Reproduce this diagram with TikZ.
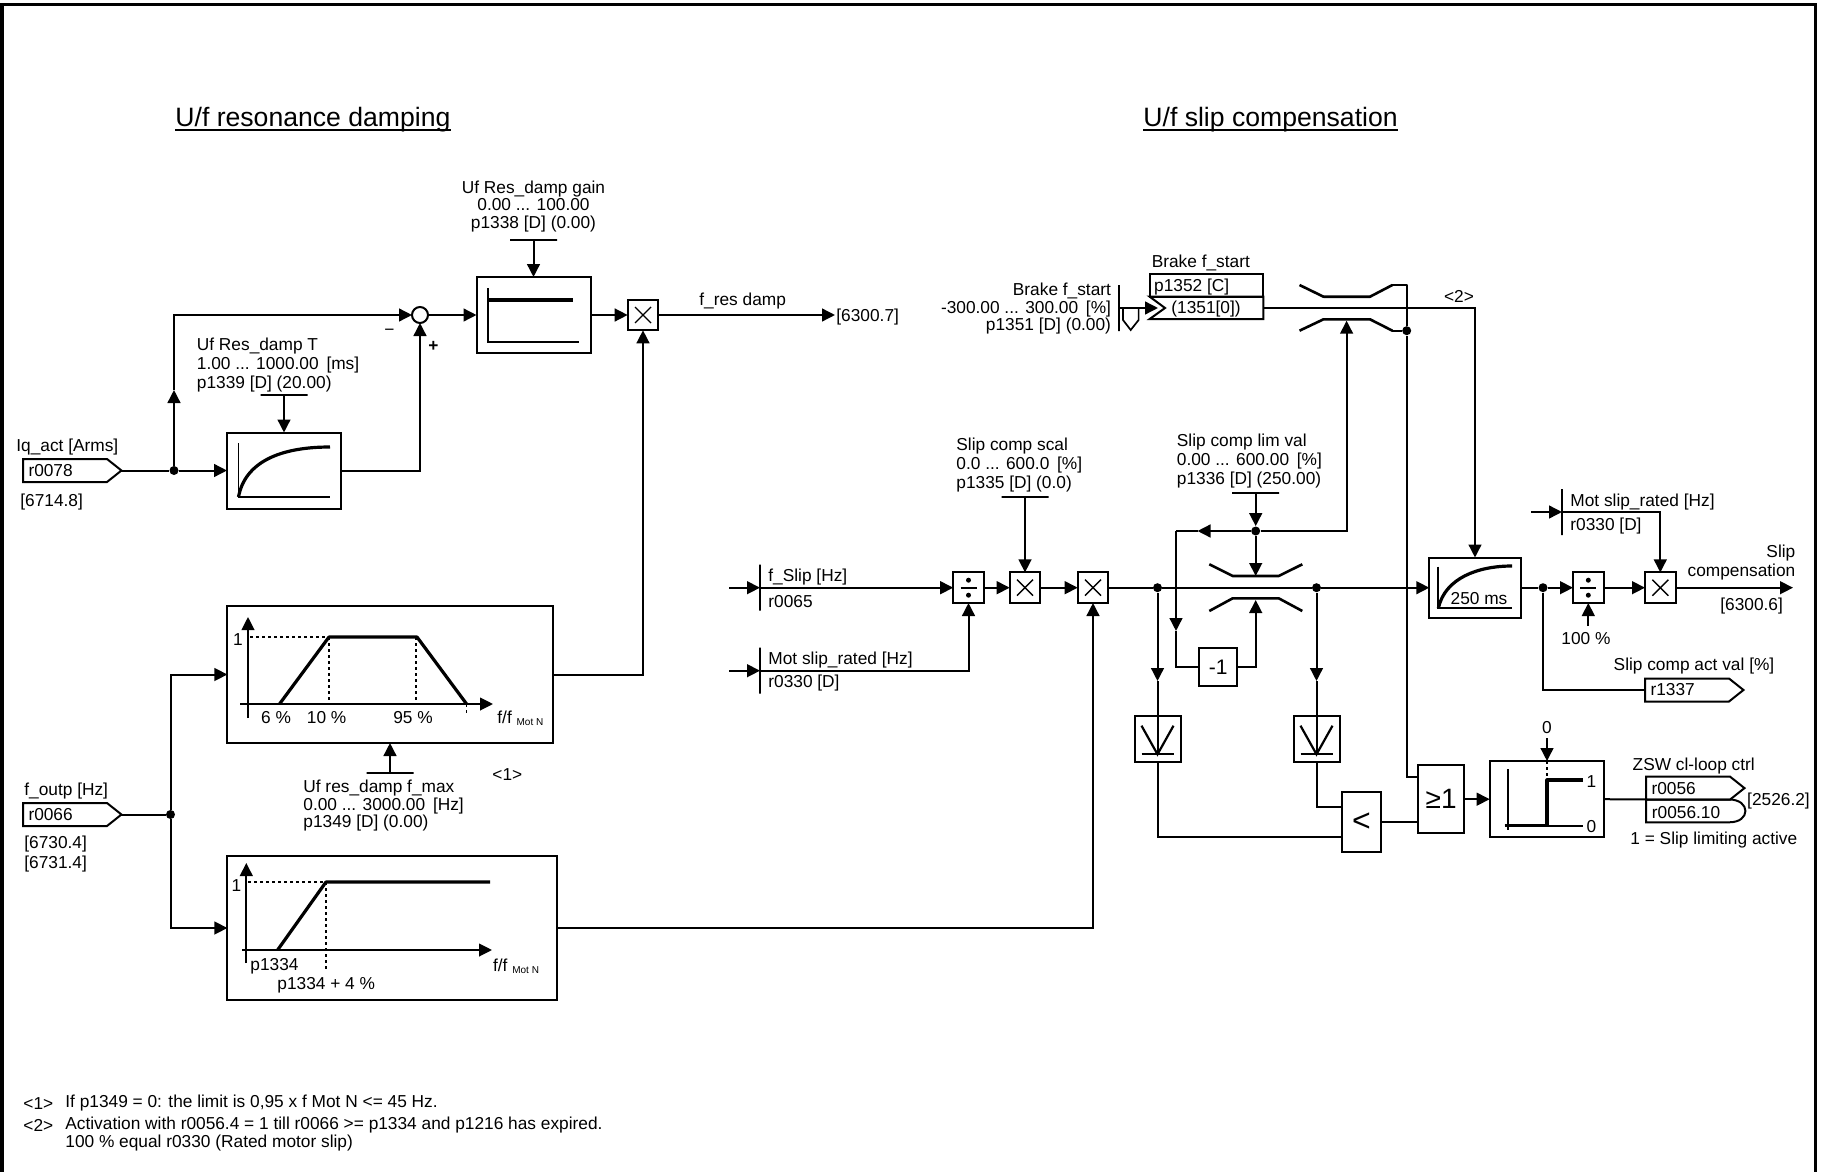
\documentclass[tikz,border=0pt]{standalone}
\usepackage{fontspec}
\setmainfont{Liberation Sans}
\usetikzlibrary{arrows.meta,shapes.symbols}

\begin{document}
\begin{tikzpicture}[
  x=0.5pt, y=-0.5pt,
  wire/.style={line width=1pt},
  arr/.style={wire, -{Triangle[length=6.5pt,width=6.4pt]}},
  axisln/.style={line width=.85pt},
  heavy/.style={line width=1.6pt},
  swline/.style={line width=1.3pt, line join=round},
  dots/.style={line width=.8pt, dash pattern=on 1.5pt off 1.5pt},
  lbl/.style={inner sep=0pt, anchor=west, align=left, yshift=-.7pt, font=\fontsize{8.65}{9.6}\selectfont},
  lblc/.style={lbl, anchor=center, align=center},
  lblr/.style={lbl, anchor=east, align=right},
  tight/.style={font=\fontsize{8.65}{8.7}\selectfont},
  heading/.style={inner sep=0pt, anchor=base west, font=\fontsize{13.3}{15}\selectfont},
  note/.style={inner sep=0pt, anchor=west, yshift=-.7pt, font=\fontsize{8.65}{9}\selectfont},
  blk/.style={draw, line width=1pt, inner sep=0pt, outer sep=0pt},
  dot/.style={circle, fill, inner sep=0pt, minimum size=4.5pt},
  hbar/.style={draw, line width=1pt, inner sep=0pt, outer sep=0pt, minimum width=23.5pt, minimum height=0pt},
  vbar/.style={draw, line width=1pt, inner sep=0pt, outer sep=0pt, minimum height=23pt, minimum width=0pt},
  tag/.style={signal, signal to=east, signal pointer angle=77, draw, line width=1pt, minimum height=11.5pt, text width=36.5pt, inner xsep=2.75pt, inner ysep=0pt, outer sep=0pt, anchor=west, align=left, font=\fontsize{8.65}{9.3}\selectfont},
  mul/.style={blk, minimum width=15.3pt, minimum height=15.3pt, path picture={
    \draw[line width=.7pt] ([shift={(-8,-8)}]path picture bounding box.center) -- ([shift={(8,8)}]path picture bounding box.center);
    \draw[line width=.7pt] ([shift={(-8,8)}]path picture bounding box.center) -- ([shift={(8,-8)}]path picture bounding box.center);}},
  divi/.style={blk, minimum width=15.3pt, minimum height=15.3pt, path picture={
    \draw[line width=.85pt] ([shift={(-8,0)}]path picture bounding box.center) -- ([shift={(8,0)}]path picture bounding box.center);
    \fill ([shift={(0,-7.5)}]path picture bounding box.center) circle (1.25pt);
    \fill ([shift={(0,7.5)}]path picture bounding box.center) circle (1.25pt);}}
]
\path[use as bounding box, fill=white] (0,0) rectangle (1821,1172);
\draw[line width=1.7pt] (2,1172) -- (2,4.5) -- (1815.5,4.5) -- (1815.5,1172);

% headings
\node[heading] (ttl1) at (175,126.7) {U/f resonance damping};
\node[heading] (ttl2) at (1143,126.7) {U/f slip compensation};
\draw[line width=.7pt] ([yshift=-1.7pt]ttl1.base west) -- ([yshift=-1.7pt]ttl1.base east);
\draw[line width=.7pt] ([yshift=-1.7pt]ttl2.base west) -- ([yshift=-1.7pt]ttl2.base east);

% resonance damping
\node[lbl] (iqt) at (16,446) {Iq\_act [Arms]};
\node[tag] (iq) at (23,470.5) {r0078};
\node[lbl] (iqr) at (20,501) {[6714.8]};
\node[dot] (j1) at (174,470.5) {};
\node[blk, minimum width=57pt, minimum height=38pt] (pt1) at (284,470.5) {};
\node[lbl] (pt1t) at (196.5,363.5) {Uf Res\_damp T\\1.00 ... 1000.00\hspace{.45em}[ms]\\p1339 [D] (20.00)};
\node[hbar] (b1339) at (284,395) {};
\node[draw, circle, line width=1pt, inner sep=0pt, outer sep=0pt, minimum size=8pt] (sum) at (420,315) {};
\node[lbl, font=\bfseries\fontsize{8.65}{9.3}\selectfont] (plus) at (428,345) {+};
\node[lbl] (minus) at (384,331) {\textminus};
\node[blk, minimum width=57pt, minimum height=38pt] (gain) at (533.5,315) {};
\node[lblc, tight] (gaint) at (533.5,205) {Uf Res\_damp gain\\0.00 ... 100.00\\p1338 [D] (0.00)};
\node[hbar] (b1338) at (533.5,240) {};
\node[mul] (m1) at (643,315) {};
\node[lbl] (frest) at (699,300) {f\_res damp};
\node[lbl] (fres) at (836,315.5) {[6300.7]};
\coordinate (fresin) at (835,315);
\coordinate (upm) at (174,390);

\draw[wire] (iq.east) -- (j1);
\draw[arr] (j1) -- (pt1.west);
\draw[arr] (j1) -- (upm);
\draw[arr] (upm) |- (sum.west);
\draw[arr] (pt1.east) -| (sum.south);
\draw[arr] (sum.east) -- (gain.west);
\draw[arr] (b1339) -- (pt1.north);
\draw[arr] (b1338) -- (gain.north);
\draw[arr] (gain.east) -- (m1.west);
\draw[arr] (m1.east) -- (fresin);

% curves inside the two upper blocks
\draw[axisln] (238.5,443) -- (238.5,497) -- (330,497);
\draw[heavy] (238.5,497) .. controls (245,462) and (280,447) .. (330,447);
\draw[axisln] (488,288) -- (488,342) -- (579,342);
\draw[heavy] (488,300) -- (572.5,300);

% characteristic f_max
\node[blk, minimum width=162.8pt, minimum height=68.5pt] (trap) at (390.2,674.5) {};
\node[hbar] (b1349) at (390,772.7) {};
\node[lbl, tight] (b1349t) at (303,804.5) {Uf res\_damp f\_max\\0.00 ... 3000.00\hspace{.45em}[Hz]\\p1349 [D] (0.00)};
\node[lbl] (ref1) at (492,773) {<1>};
\node[lblc] (one1) at (238,638) {1};
\node[lblc] (t6) at (276,716) {6 \%};
\node[lblc] (t10) at (326.6,716) {10 \%};
\node[lblc] (t95) at (413,716) {95 \%};
\node[lbl] (ffa) at (497,717) {f/f \raisebox{-1.3pt}{\fontsize{5}{6}\selectfont Mot N}};
\draw[arr, line width=.85pt] (248,718) -- (248,617);
\draw[arr, line width=.85pt] (240,704) -- (493,704);
\draw[dots] (250,637) -- (329,637);
\draw[dots] (329,637) -- (329,704);
\draw[dots] (416,637) -- (416,704);
\draw[dots] (466.6,704) -- (466.6,713);
\draw[heavy, line join=round] (279.5,704) -- (329,637) -- (417,637) -- (466.6,704);

% characteristic p1334
\node[blk, minimum width=164.8pt, minimum height=72pt] (ramp) at (392.2,928) {};
\node[lblc] (one2) at (236.5,884) {1};
\node[lbl] (tp) at (250,965) {p1334};
\node[lbl] (tp4) at (277,984) {p1334 + 4 \%};
\node[lbl] (ffb) at (492.7,965) {f/f \raisebox{-1.3pt}{\fontsize{5}{6}\selectfont Mot N}};
\draw[arr, line width=.85pt] (246.3,963) -- (246.3,863);
\draw[arr, line width=.85pt] (242,950) -- (492,950);
\draw[dots] (248,882) -- (326,882);
\draw[dots] (326,882) -- (326,972);
\draw[heavy, line join=round] (277.6,950) -- (326,882) -- (490,882);

% f_outp
\node[lbl] (foutt) at (24,790) {f\_outp [Hz]};
\node[tag] (fout) at (23,814.5) {r0066};
\node[lbl] (foutr) at (24,852.5) {[6730.4]\\[.6pt][6731.4]};
\node[dot] (j2) at (170.5,814.5) {};
\coordinate (trapin) at (227.4,674.5);
\coordinate (rampin) at (227.4,928);

\draw[wire] (fout.east) -- (j2);
\draw[arr] (j2) |- (trapin);
\draw[arr] (j2) |- (rampin);
\draw[arr] (b1349) -- (trap.south -| b1349);
\draw[arr] (trap.east) -| (m1.south);

% slip inputs
\node[vbar] (fsl) at (760,587.7) {};
\coordinate (fslin) at (729,587.7);
\node[lbl] (fslt) at (768,576) {f\_Slip [Hz]};
\node[lbl] (fslr) at (768,600) {r0065};
\node[vbar] (msl) at (760,670.7) {};
\coordinate (mslin) at (729,670.7);
\node[lbl] (mslt) at (768,659) {Mot slip\_rated [Hz]};
\node[lbl] (mslr) at (768,682) {r0330 [D]};
\node[divi] (d1) at (968.5,587.7) {};
\node[mul] (m2) at (1025,587.7) {};
\node[mul] (m3) at (1093,587.7) {};
\node[lbl] (sclt) at (956,463.5) {Slip comp scal\\0.0 ... 600.0\hspace{.45em}[\%]\\p1335 [D] (0.0)};
\node[hbar] (b1335) at (1025,497) {};

\draw[arr] (fslin) -- (fsl);
\draw[arr] (fsl) -- (d1.west);
\draw[arr] (mslin) -- (msl);
\draw[arr] (msl) -| (d1.south);
\draw[arr] (d1.east) -- (m2.west);
\draw[arr] (m2.east) -- (m3.west);
\draw[arr] (b1335) -- (m2.north);
\draw[arr] (ramp.east) -| (m3.south);

% limiter
\node[dot] (j3) at (1157.5,587.7) {};
\node[dot] (j4) at (1316.5,587.7) {};
\node[dot] (j5) at (1255.7,531) {};
\node[lbl] (limt) at (1176.5,459.5) {Slip comp lim val\\0.00 ... 600.00\hspace{.45em}[\%]\\p1336 [D] (250.00)};
\node[hbar] (b1336) at (1255.7,493) {};
\node[blk, minimum width=19.2pt, minimum height=19.2pt, font=\fontsize{10.5}{11}\selectfont] (neg) at (1218.2,667) {-1};
\node[blk, minimum width=23pt, minimum height=23pt] (cmpa) at (1157.5,739) {};
\node[blk, minimum width=23pt, minimum height=23pt] (cmpb) at (1316.5,739) {};
\coordinate (limup) at (1255.7,576);
\coordinate (limlo) at (1255.7,600);
\coordinate (loopc) at (1176,531);
\coordinate (loopa) at (1197.5,531);
\coordinate (loopd) at (1176,631);
\coordinate (ja) at (1157.5,681);
\coordinate (jb) at (1316.5,681);
\draw[swline] (1209.3,564.3) -- (1232.7,576) -- (1278.7,576) -- (1302.3,564.3);
\draw[swline] (1209.3,611) -- (1232.7,598.3) -- (1278.7,598.3) -- (1302.3,611);

\draw[wire] (m3.east) -- (j3);
\draw[wire] (j3) -- (j4);
\draw[arr] (b1336) -- (j5);
\draw[arr] (j5) -- (limup);
\draw[arr] (j5) -- (loopa);
\draw[wire] (loopa) -- (loopc);
\draw[arr] (loopc) -- (loopd);
\draw[wire] (loopd) |- (neg.west);
\draw[arr] (neg.east) -| (limlo);
\draw[arr] (j3) -- (ja);
\draw[wire] (ja) -- (cmpa.north);
\draw[arr] (j4) -- (jb);
\draw[wire] (jb) -- (cmpb.north);

% switch symbols inside the two small blocks
\foreach \cx in {1157.5,1316.5} {
  \draw[line width=1.1pt] (\cx-16,725.7) -- (\cx,754.3) -- (\cx+16,725.7);
  \draw[line width=1.1pt] (\cx-16,754.3) -- (\cx+16,754.3);
  \draw[wire] (\cx,716) -- (\cx,754.3);
}

% brake
\node[lblr, tight] (brkt) at (1111.4,307.5) {Brake f\_start\\-300.00 ... 300.00\hspace{.45em}[\%]\\p1351 [D] (0.00)};
\node[vbar] (brk) at (1119.4,308) {};
\node[lbl] (fixt) at (1151.4,261.7) {Brake f\_start};
\node[blk, minimum width=56.8pt, minimum height=11.35pt] (fixa) at (1206.5,285.35) {};
\node[lbl] (fixat) at (1153.8,285.5) {p1352 [C]};
\node[lbl] (fixb) at (1171,308) {(1351[0])};
\coordinate (fixe) at (1263.3,308);
\coordinate (fixin) at (1158,308);
\node[dot] (j6) at (1406.7,330.7) {};
\node[lblc] (ref2) at (1459,295) {<2>};
\coordinate (swup) at (1346.6,320.7);
\draw[wire, line join=miter] (1149.7,296.7) -- (1263.3,296.7) -- (1263.3,319) -- (1149.7,319) -- (1165,308) -- cycle;
\draw[axisln] (1123,308) -- (1123,320) -- (1130.7,330) -- (1138.6,320) -- (1138.6,308);
\draw[swline] (1299.5,285) -- (1323.5,296.7) -- (1370,296.7) -- (1392.4,285);
\draw[wire, line join=round] (1392.4,285) -- (1406.7,285) -- (j6);
\draw[swline] (1299.5,330.7) -- (1323.5,319.3) -- (1370,319.3) -- (1392.4,330.7);
\draw[wire] (1392.4,330.7) -- (j6);
\draw[arr] (brk) -- (fixin);
\draw[arr] (j5) -| (swup);

% filter and output
\node[blk, minimum width=45.7pt, minimum height=30.2pt] (pt2) at (1475,587.7) {};
\node[lblc] (pt2t) at (1479,596.7) {250 ms};
\node[dot] (j7) at (1543,587.7) {};
\node[divi] (d2) at (1588.3,587.7) {};
\node[mul] (m4) at (1660.3,587.7) {};
\node[lblc] (pct) at (1586,637.5) {100 \%};
\coordinate (pctin) at (1588.3,626);
\node[vbar] (msr) at (1562,512) {};
\coordinate (msrin) at (1531,512);
\node[lbl] (msrt) at (1570,500.7) {Mot slip\_rated [Hz]};
\node[lbl] (msrr) at (1570,524.3) {r0330 [D]};
\node[lblr] (slipt) at (1795.7,561) {Slip\\compensation};
\coordinate (slipo) at (1793,587.7);
\node[lblr] (slipr) at (1783.3,605) {[6300.6]};
\node[lbl] (actt) at (1613.3,665) {Slip comp act val [\%]};
\node[tag] (act) at (1645,690) {r1337};
\draw[axisln] (1438.3,566.7) -- (1438.3,608.3) -- (1511.7,608.3);
\draw[heavy] (1438.3,608.3) .. controls (1445,578) and (1478,566) .. (1512,566);

\draw[arr] (j4) -- (pt2.west);
\draw[arr] (fixe) -| (pt2.north);
\draw[wire] (pt2.east) -- (j7);
\draw[arr] (j7) -- (d2.west);
\draw[arr] (d2.east) -- (m4.west);
\draw[arr] (m4.east) -- (slipo);
\draw[arr] (pctin) -- (d2.south);
\draw[arr] (msrin) -- (msr);
\draw[arr] (msr) -| (m4.north);
\draw[wire] (j7) |- (act.west);

% comparator, or gate, step
\node[blk, minimum width=19.2pt, minimum height=30.3pt, font=\fontsize{16}{17}\selectfont] (lt) at (1361.5,822) {<};
\node[blk, minimum width=23.1pt, minimum height=34.2pt, font=\fontsize{14}{15}\selectfont] (orb) at (1441.2,799.2) {≥1};
\node[blk, minimum width=57pt, minimum height=38.2pt] (stp) at (1546.7,799.2) {};
\node[lblc] (stp0) at (1547,726) {0};
\coordinate (stpin) at (1547,738);
\node[lblc] (s1) at (1591.3,780) {1};
\node[lblc] (s0) at (1591.3,825) {0};
\draw[axisln] (1507.7,769) -- (1507.7,830);
\draw[axisln] (1504.5,825.7) -- (1583,825.7);
\draw[heavy, line join=round] (1504.5,825.7) -- (1547,825.7) -- (1547,780) -- (1583,780);
\draw[dots] (1547,761) -- (1547,780);
\coordinate (ltb) at (1342.3,806.7);
\coordinate (lta) at (1342.3,836.7);
\coordinate (orin) at (1418.1,776.7);

\draw[wire] (cmpb.south) |- (ltb);
\draw[wire] (cmpa.south) |- (lta);
\draw[wire] (lt.east) -- (lt.east -| orb.west);
\draw[wire] (j6) |- (orin);
\draw[arr] (orb.east) -- (stp.west);
\draw[arr] (stpin) -- (stp.north -| stpin);

% status word
\node[lbl] (zswt) at (1632.3,764.3) {ZSW cl-loop ctrl};
\node[tag] (zsw) at (1646,788.1) {r0056};
\node[lbl] (zswb) at (1651.5,811) {r0056.10};
\node[lbl] (zswr) at (1746.8,799.3) {[2526.2]};
\node[lbl] (zswl) at (1630,838.3) {1 = Slip limiting active};
\coordinate (zswin) at (1646,799.5);
\draw[wire] (1646,799.5) -- (1729.2,799.5) .. controls (1739.7,799.5) and (1745.4,805) .. (1745.4,811) .. controls (1745.4,817) and (1739.7,822.3) .. (1729.2,822.3) -- (1646,822.3) -- cycle;
\draw[wire] (stp.east) -- (zswin);

% notes
\node[note] (n1) at (23,1101.7) {<1>};
\node[note] (n1t) at (65,1101.7) {If p1349 = 0: the limit is 0,95 x f Mot N <= 45 Hz.};
\node[note] (n2) at (23,1124) {<2>};
\node[note] (n2t) at (65,1124) {Activation with r0056.4 = 1 till r0066 >= p1334 and p1216 has expired.};
\node[note] (n3t) at (65,1141.7) {100 \% equal r0330 (Rated motor slip)};
\end{tikzpicture}
\end{document}
